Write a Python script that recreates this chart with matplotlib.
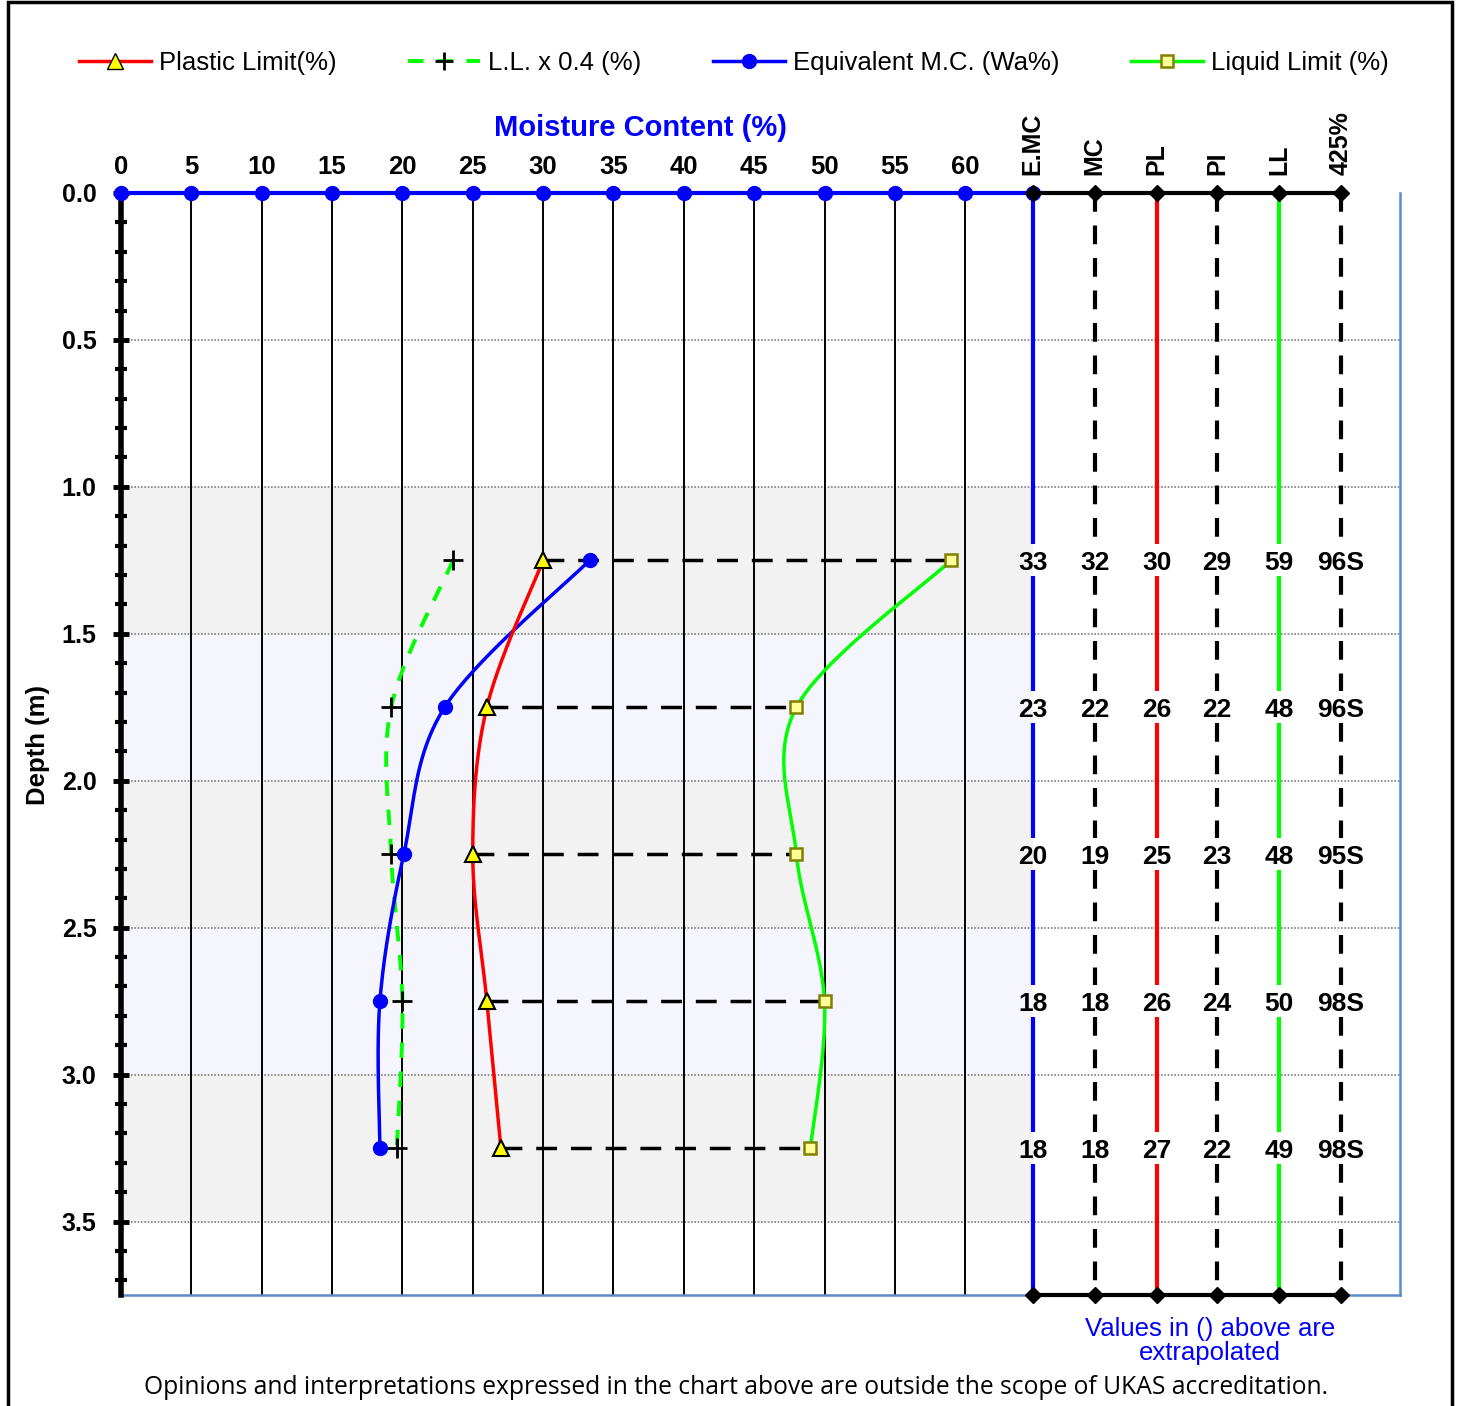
import numpy as np
import matplotlib.pyplot as plt
from matplotlib.lines import Line2D
from matplotlib.patches import Rectangle

plt.rcParams['font.family'] = ['Liberation Sans', 'DejaVu Sans']

# test results per sample depth
depth = [1.25, 1.75, 2.25, 2.75, 3.25]
plastic_limit = [30, 26, 25, 26, 27]
liquid_limit = [59, 48, 48, 50, 49]
equiv_mc = [33.3, 23.0, 20.1, 18.4, 18.4]
moisture = [32, 22, 19, 18, 18]
passing_425 = ['96S', '96S', '95S', '98S', '98S']

col_names = ['E.MC', 'MC', 'PL', 'PI', 'LL', '425%']
x_ticks = list(range(0, 65, 5))
y_major = [0.0, 0.5, 1.0, 1.5, 2.0, 2.5, 3.0, 3.5]

ll_04 = [0.4 * v for v in liquid_limit]
plast_index = [l - p for l, p in zip(liquid_limit, plastic_limit)]

col_x = [64.8, 69.2, 73.6, 77.9, 82.3, 86.7]
x_max = 90.9
y_max = 3.75

W, H = 1458, 1406
fig = plt.figure(figsize=(W / 100, H / 100), dpi=100)
ax_l, ax_r, ax_t, ax_b = 121, 1400, 193, 1295
ax = fig.add_axes([ax_l / W, 1 - ax_b / H, (ax_r - ax_l) / W, (ax_b - ax_t) / H])
ax.set_xlim(0, x_max)
ax.set_ylim(y_max, 0)

# pixels per data unit, used so the smoothing works in screen space
sx = (ax_r - ax_l) / x_max
sy = (ax_b - ax_t) / y_max


def smooth(xs, ys, n=40):
    # Excel-style smoothed line: cubic bezier with catmull-rom handles
    p = np.column_stack([np.asarray(xs, float) * sx, np.asarray(ys, float) * sy])
    pts = np.vstack([p[0], p, p[-1]])
    t = np.linspace(0, 1, n)[:, None]
    out = []
    for i in range(1, len(pts) - 2):
        p0, p1, p2, p3 = pts[i - 1:i + 3]
        c1 = p1 + (p2 - p0) / 6
        c2 = p2 - (p3 - p1) / 6
        seg = (1 - t) ** 3 * p1 + 3 * (1 - t) ** 2 * t * c1 + 3 * (1 - t) * t ** 2 * c2 + t ** 3 * p2
        out.append(seg)
    c = np.vstack(out)
    return c[:, 0] / sx, c[:, 1] / sy


# shaded bands
band_colors = {1.0: '#f2f2f2', 1.5: '#f5f5fd', 2.0: '#f2f2f2', 2.5: '#f5f5fd', 3.0: '#f2f2f2'}
for y0, c in band_colors.items():
    ax.axhspan(y0, y0 + 0.5, xmin=0, xmax=col_x[0] / x_max, color=c, lw=0, zorder=0)

# grid
ax.hlines(y_major[1:], 0, x_max, colors='#808080', linestyles=(0, (1, 1)), lw=1.2, zorder=1)
ax.vlines(x_ticks[1:], 0, y_max, colors='black', lw=1.4, zorder=1)

# spines
ax.spines['top'].set_visible(False)
for s in ['right', 'bottom']:
    ax.spines[s].set_color('#5b8cc8')
    ax.spines[s].set_linewidth(1.8)
ax.spines['left'].set_linewidth(4)
ax.spines['left'].set_zorder(6)

# depth axis
ax.set_yticks(y_major)
ax.set_yticklabels([f'{v:.1f}' for v in y_major], fontsize=18, fontweight='bold')
ax.set_yticks(np.arange(0, 3.76, 0.1), minor=True)
ax.tick_params(axis='y', which='major', direction='inout', length=11, width=3.5, pad=12)
ax.tick_params(axis='y', which='minor', direction='inout', length=8, width=3)
fig.text(38 / W, 1 - 745 / H, 'Depth (m)', rotation=90, ha='center', va='center',
         fontsize=18.5, fontweight='bold')

# moisture axis on top
ax.xaxis.tick_top()
ax.set_xticks(x_ticks)
ax.set_xticklabels([str(v) for v in x_ticks], fontsize=18.5, fontweight='bold')
ax.tick_params(axis='x', length=0, pad=10)
fig.text(640 / W, 1 - 128 / H, 'Moisture Content (%)', ha='center', va='center',
         fontsize=21, fontweight='bold', color='#0000ff')

ax.plot([0, col_x[0]], [0, 0], color='#0000ff', lw=3, clip_on=False, zorder=7)
ax.plot(x_ticks + [col_x[0]], [0] * (len(x_ticks) + 1), 'o', color='#0000ff', ms=10,
        clip_on=False, zorder=8)

# value columns
dash_cols = (0, (4.5, 3.3))
col_style = [('#0000ff', '-'), ('black', dash_cols), ('#ff0000', '-'),
             ('black', dash_cols), ('#00ff00', '-'), ('black', dash_cols)]
col_vals = [[f'{v:.0f}' for v in equiv_mc], [str(v) for v in moisture],
            [str(v) for v in plastic_limit], [str(v) for v in plast_index],
            [str(v) for v in liquid_limit], passing_425]
gap = 0.055
for xc, (c, ls), vals in zip(col_x, col_style, col_vals):
    edges = [0]
    for d in depth:
        edges += [d - gap, d + gap]
    edges.append(y_max)
    for a, b in zip(edges[0::2], edges[1::2]):
        ax.plot([xc, xc], [a, b], color=c, ls=ls, lw=3, zorder=4, solid_capstyle='butt')
    for d, v in zip(depth, vals):
        ax.text(xc, d + 0.01, v, ha='center', va='center', fontsize=19, fontweight='bold', zorder=9)

for yy in [0, y_max]:
    ax.plot([col_x[0], col_x[-1]], [yy, yy], color='black', lw=3, clip_on=False, zorder=7)
    ax.plot(col_x, [yy] * len(col_x), 'D', color='black', ms=8, clip_on=False, zorder=9)

for i, name in enumerate(col_names):
    ax.text(col_x[i], -0.06, name, rotation=90, ha='center', va='bottom',
            fontsize=18, fontweight='bold', clip_on=False)

# PL to LL connectors
for d, p, l in zip(depth, plastic_limit, liquid_limit):
    ax.plot([p, l], [d, d], color='black', lw=2.5, ls=(0, (6, 4)), zorder=3)

# smoothed series
x, y = smooth(ll_04, depth)
ax.plot(x, y, color='#00ff00', lw=2.8, ls=(0, (4, 3.5)), zorder=5)
ax.plot(ll_04, depth, '+', color='black', ms=14, mew=2, zorder=6)

x, y = smooth(equiv_mc, depth)
ax.plot(x, y, color='#0000ff', lw=2.5, zorder=5)
ax.plot(equiv_mc, depth, 'o', color='#0000ff', ms=10, zorder=6)

x, y = smooth(plastic_limit, depth)
ax.plot(x, y, color='#ff0000', lw=2.5, zorder=5)
ax.plot(plastic_limit, depth, '^', mfc='#ffff00', mec='black', mew=1.5, ms=12, zorder=6)

x, y = smooth(liquid_limit, depth)
ax.plot(x, y, color='#00ff00', lw=2.5, zorder=5)
ax.plot(liquid_limit, depth, 's', mfc='#ffff99', mec='#808000', mew=1.8, ms=9, zorder=6)

# legend
handles = [
    Line2D([], [], color='#ff0000', lw=2.5, marker='^', mfc='#ffff00', mec='black', ms=11),
    Line2D([], [], color='#00ff00', lw=2.8, ls=(0, (4, 3.5)), marker='+', mec='black', mew=2, ms=13),
    Line2D([], [], color='#0000ff', lw=2.5, marker='o', ms=10),
    Line2D([], [], color='#00ff00', lw=2.5, marker='s', mfc='#ffff99', mec='#808000', mew=1.8, ms=9),
]
labels = ['Plastic Limit(%)', 'L.L. x 0.4 (%)', 'Equivalent M.C. (Wa%)', 'Liquid Limit (%)']
fig.legend(handles, labels, loc='center', bbox_to_anchor=(734 / W, 1 - 63 / H), ncol=4,
           frameon=False, fontsize=18.5, handlelength=2.8, handletextpad=0.3,
           columnspacing=2.8)

# notes
fig.text(1210 / W, 1 - 1341 / H, 'Values in () above are\nextrapolated', ha='center', va='center',
         fontsize=18.5, color='#0000ff', linespacing=1.05)
fig.text(736 / W, 1 - 1388 / H,
         'Opinions and interpretations expressed in the chart above are outside the scope of UKAS accreditation.',
         ha='center', va='center', fontsize=17.7, family=['Open Sans', 'DejaVu Sans'])

# outer frame
fig.add_artist(Rectangle((8 / W, -0.05), (1452 - 8) / W, 1.05 - 2 / H, fill=False,
                         ec='black', lw=2.5, transform=fig.transFigure))

fig.savefig('out.png', dpi=100)
